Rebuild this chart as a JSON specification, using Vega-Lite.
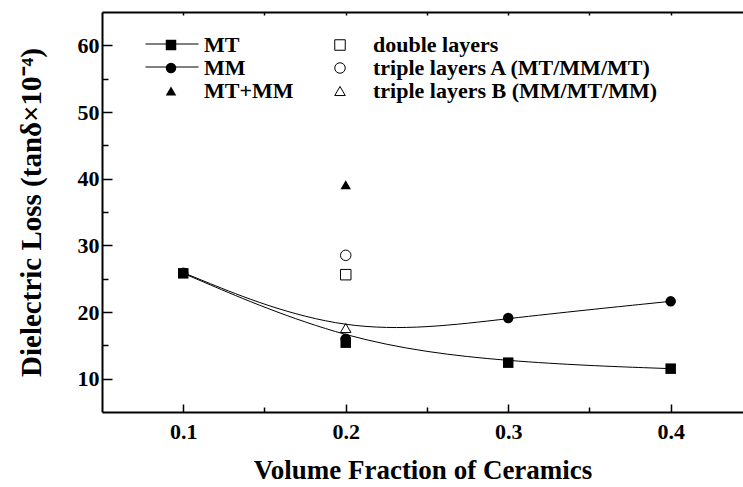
{
  "$schema": "https://vega.github.io/schema/vega-lite/v6.json",
  "width": 641,
  "height": 400,
  "autosize": {"type": "none"},
  "padding": {"left": 102, "top": 12, "right": 0, "bottom": 75},
  "background": "white",
  "config": {
    "view": {"stroke": null},
    "font": "Liberation Serif",
    "axis": {
      "domainColor": "black",
      "domainWidth": 2,
      "tickColor": "black",
      "tickWidth": 1.5,
      "labelColor": "black",
      "titleColor": "black",
      "labelFont": "Liberation Serif",
      "titleFont": "Liberation Serif",
      "labelFontWeight": "bold",
      "titleFontWeight": "bold",
      "grid": false
    },
    "legend": {
      "orient": "none",
      "title": null,
      "padding": 0,
      "labelFont": "Liberation Serif",
      "labelFontSize": 22,
      "labelFontWeight": "bold",
      "labelColor": "black",
      "labelLimit": 500
    }
  },
  "data": {
    "values": [
      {"x": 0.1, "y": 25.8, "series": "MT"},
      {"x": 0.2, "y": 15.4, "series": "MT"},
      {"x": 0.3, "y": 12.4, "series": "MT"},
      {"x": 0.4, "y": 11.5, "series": "MT"},
      {"x": 0.1, "y": 25.9, "series": "MM"},
      {"x": 0.2, "y": 16.0, "series": "MM"},
      {"x": 0.3, "y": 19.1, "series": "MM"},
      {"x": 0.4, "y": 21.6, "series": "MM"},
      {"x": 0.2, "y": 39.1, "series": "MT+MM"},
      {"x": 0.2, "y": 25.6, "series": "double layers"},
      {"x": 0.2, "y": 28.5, "series": "triple layers A (MT/MM/MT)"},
      {"x": 0.2, "y": 17.6, "series": "triple layers B (MM/MT/MM)"}
    ]
  },
  "layer": [
    {
      "transform": [{"filter": {"field": "series", "equal": "MT"}}],
      "mark": {"type": "line", "interpolate": "basis", "strokeWidth": 1},
      "encoding": {
        "x": {
          "field": "x", "type": "quantitative",
          "scale": {"domain": [0.05, 0.4445], "nice": false, "zero": false},
          "axis": {
            "orient": "bottom",
            "values": [0.1, 0.15, 0.2, 0.25, 0.3, 0.35, 0.4],
            "labelExpr": "round(datum.value*20)%2==0 ? format(datum.value,'.1f') : ''",
            "tickSize": {"condition": {"test": "round(datum.value*20)%2==0", "value": -8}, "value": -5},
            "labelFontSize": 22,
            "labelPadding": 17,
            "title": "Volume Fraction of Ceramics",
            "titleFontSize": 27,
            "titlePadding": 15
          }
        },
        "y": {
          "field": "y", "type": "quantitative",
          "scale": {"domain": [5, 65], "nice": false, "zero": false},
          "axis": {
            "values": [10, 15, 20, 25, 30, 35, 40, 45, 50, 55, 60],
            "labelExpr": "datum.value%10==0 ? datum.value : ''",
            "tickSize": {"condition": {"test": "datum.value%10==0", "value": -10}, "value": -6},
            "labelFontSize": 22,
            "labelPadding": 13,
            "title": "Dielectric Loss (tanδ×10⁻⁴)",
            "titleFontSize": 29,
            "titlePadding": 31
          }
        },
        "stroke": {
          "field": "series", "type": "nominal",
          "scale": {"domain": ["MT"], "range": ["black"]},
          "legend": {
            "legendX": 43,
            "legendY": 5,
            "symbolType": "stroke",
            "symbolSize": 2809,
            "symbolStrokeWidth": 1,
            "labelExpr": "''"
          }
        }
      }
    },
    {
      "transform": [{"filter": {"field": "series", "equal": "MM"}}],
      "mark": {"type": "line", "interpolate": "basis", "strokeWidth": 1},
      "encoding": {
        "x": {
          "field": "x", "type": "quantitative",
          "scale": {"domain": [0.05, 0.4445], "nice": false, "zero": false},
          "axis": null
        },
        "y": {
          "field": "y", "type": "quantitative",
          "scale": {"domain": [5, 65], "nice": false, "zero": false},
          "axis": {
            "values": [10, 15, 20, 25, 30, 35, 40, 45, 50, 55, 60],
            "labelExpr": "datum.value%10==0 ? datum.value : ''",
            "tickSize": {"condition": {"test": "datum.value%10==0", "value": -10}, "value": -6},
            "labelFontSize": 22,
            "labelPadding": 13,
            "title": "Dielectric Loss (tanδ×10⁻⁴)",
            "titleFontSize": 29,
            "titlePadding": 31
          }
        },
        "stroke": {
          "field": "series", "type": "nominal",
          "scale": {"domain": ["MM"], "range": ["black"]},
          "legend": {
            "legendX": 43,
            "legendY": 28,
            "symbolType": "stroke",
            "symbolSize": 2809,
            "symbolStrokeWidth": 1,
            "labelExpr": "''"
          }
        }
      }
    },
    {
      "transform": [{"filter": {"field": "series", "oneOf": ["MT", "MM", "MT+MM"]}}],
      "mark": {"type": "point", "filled": true, "color": "black", "size": 110, "opacity": 1},
      "encoding": {
        "x": {
          "field": "x", "type": "quantitative",
          "scale": {"domain": [0.05, 0.4445], "nice": false, "zero": false},
          "axis": {
            "orient": "top",
            "values": [0.1, 0.15, 0.2, 0.25, 0.3, 0.35, 0.4],
            "labels": false,
            "title": null,
            "tickSize": -3
          }
        },
        "y": {
          "field": "y", "type": "quantitative",
          "scale": {"domain": [5, 65], "nice": false, "zero": false},
          "axis": {
            "values": [10, 15, 20, 25, 30, 35, 40, 45, 50, 55, 60],
            "labelExpr": "datum.value%10==0 ? datum.value : ''",
            "tickSize": {"condition": {"test": "datum.value%10==0", "value": -10}, "value": -6},
            "labelFontSize": 22,
            "labelPadding": 13,
            "title": "Dielectric Loss (tanδ×10⁻⁴)",
            "titleFontSize": 29,
            "titlePadding": 31
          }
        },
        "shape": {
          "field": "series", "type": "nominal",
          "scale": {
            "domain": ["MT", "MM", "MT+MM"],
            "range": ["square", "circle", "triangle-up"]
          },
          "legend": {
            "legendX": 58,
            "legendY": 22,
            "symbolSize": 110,
            "labelOffset": 22,
            "rowPadding": 1
          }
        }
      }
    },
    {
      "transform": [{"filter": {"field": "series", "oneOf": ["double layers", "triple layers A (MT/MM/MT)", "triple layers B (MM/MT/MM)"]}}],
      "mark": {"type": "point", "filled": false, "color": "black", "strokeWidth": 1, "size": 110, "opacity": 1},
      "encoding": {
        "x": {
          "field": "x", "type": "quantitative",
          "scale": {"domain": [0.05, 0.4445], "nice": false, "zero": false},
          "axis": null
        },
        "y": {
          "field": "y", "type": "quantitative",
          "scale": {"domain": [5, 65], "nice": false, "zero": false},
          "axis": {
            "values": [10, 15, 20, 25, 30, 35, 40, 45, 50, 55, 60],
            "labelExpr": "datum.value%10==0 ? datum.value : ''",
            "tickSize": {"condition": {"test": "datum.value%10==0", "value": -10}, "value": -6},
            "labelFontSize": 22,
            "labelPadding": 13,
            "title": "Dielectric Loss (tanδ×10⁻⁴)",
            "titleFontSize": 29,
            "titlePadding": 31
          }
        },
        "shape": {
          "field": "series", "type": "nominal",
          "scale": {
            "domain": ["double layers", "triple layers A (MT/MM/MT)", "triple layers B (MM/MT/MM)"],
            "range": ["square", "circle", "triangle-up"]
          },
          "legend": {
            "legendX": 227,
            "legendY": 22,
            "symbolSize": 110,
            "symbolStrokeWidth": 1,
            "labelOffset": 22,
            "rowPadding": 1
          }
        }
      }
    }
  ],
  "resolve": {
    "axis": {"x": "independent"},
    "scale": {"stroke": "independent", "shape": "independent"},
    "legend": {"stroke": "independent", "shape": "independent"}
  }
}
